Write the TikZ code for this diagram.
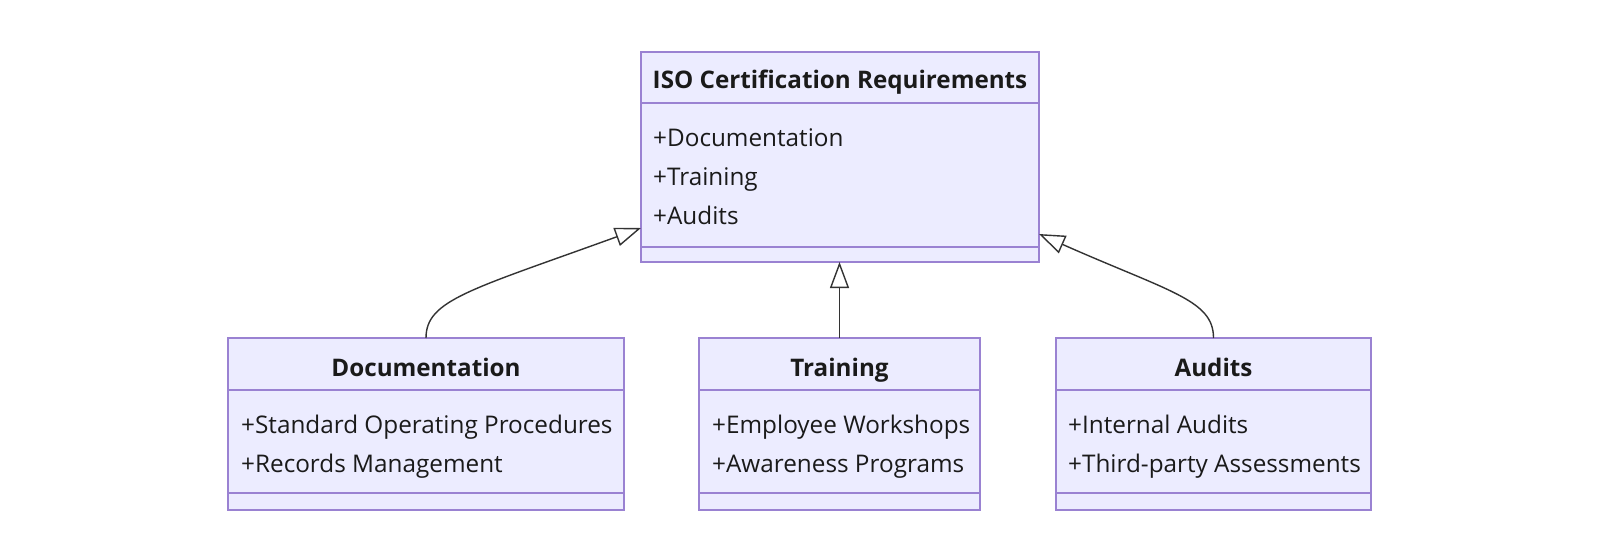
\documentclass[tikz,border=0pt]{standalone}
\usepackage{fontspec}
\setmainfont{Open Sans}
\usetikzlibrary{arrows.meta,calc}
\definecolor{boxfill}{HTML}{ECECFF}
\definecolor{boxline}{HTML}{9A82D2}
\definecolor{txt}{HTML}{1A1A1A}
\definecolor{edge}{HTML}{333333}
\begin{document}
\begin{tikzpicture}[x=1pt,y=-1pt,
 classbox/.style={draw=boxline, fill=boxfill, line width=1.8pt, inner sep=0pt, outer sep=0pt},
 divider/.style={draw=boxline, line width=1.3pt},
 title/.style={anchor=base, font=\fontsize{24.2}{28}\selectfont\bfseries, text=txt, inner sep=0pt},
 attr/.style={anchor=base west, font=\fontsize{24.3}{28}\selectfont, text=txt, inner sep=0pt},
 ext/.style={draw=edge, line width=1.4pt, -{Triangle[length=26pt,width=19pt,fill=white]}}
]
\useasboundingbox[fill=white] (0,0) rectangle (1600,545);

% ISO box
\node[classbox, minimum width=398pt, minimum height=210pt] (iso) at (840,157) {};
\draw[divider] (641,103) -- (1039,103);
\draw[divider] (641,247) -- (1039,247);
\node[title] (isoT) at (840,89) {ISO Certification Requirements};
\node[attr] (isoA1) at (653,147) {+Documentation};
\node[attr] (isoA2) at (653,186) {+Training};
\node[attr] (isoA3) at (653,225) {+Audits};

% Documentation box
\node[classbox, minimum width=396pt, minimum height=172pt] (doc) at (426,424) {};
\draw[divider] (228,390) -- (624,390);
\draw[divider] (228,493) -- (624,493);
\node[title] (docT) at (426,376) {Documentation};
\node[attr] (docA1) at (241,433) {+Standard Operating Procedures};
\node[attr] (docA2) at (241,472) {+Records Management};

% Training box
\node[classbox, minimum width=281pt, minimum height=172pt] (train) at (839.5,424) {};
\draw[divider] (699,390) -- (980,390);
\draw[divider] (699,493) -- (980,493);
\node[title] (trainT) at (839.5,376) {Training};
\node[attr] (trainA1) at (712,433) {+Employee Workshops};
\node[attr] (trainA2) at (712,472) {+Awareness Programs};

% Audits box
\node[classbox, minimum width=315pt, minimum height=172pt] (aud) at (1213.5,424) {};
\draw[divider] (1056,390) -- (1371,390);
\draw[divider] (1056,493) -- (1371,493);
\node[title] (audT) at (1213.5,376) {Audits};
\node[attr] (audA1) at (1068,433) {+Internal Audits};
\node[attr] (audA2) at (1068,472) {+Third-party Assessments};

% connectors
\coordinate (isoL) at ($(iso.south west)+(0,-34)$);
\coordinate (isoR) at ($(iso.south east)+(0,-28)$);
\draw[ext] (doc.north) .. controls ($(doc.north)+(0,-38)$) and (470,290) .. (isoL);
\draw[ext] (train.north) -- (train.north |- iso.south);
\draw[ext] (aud.north) .. controls ($(aud.north)+(0,-38)$) and (1170,292) .. (isoR);
\end{tikzpicture}
\end{document}
